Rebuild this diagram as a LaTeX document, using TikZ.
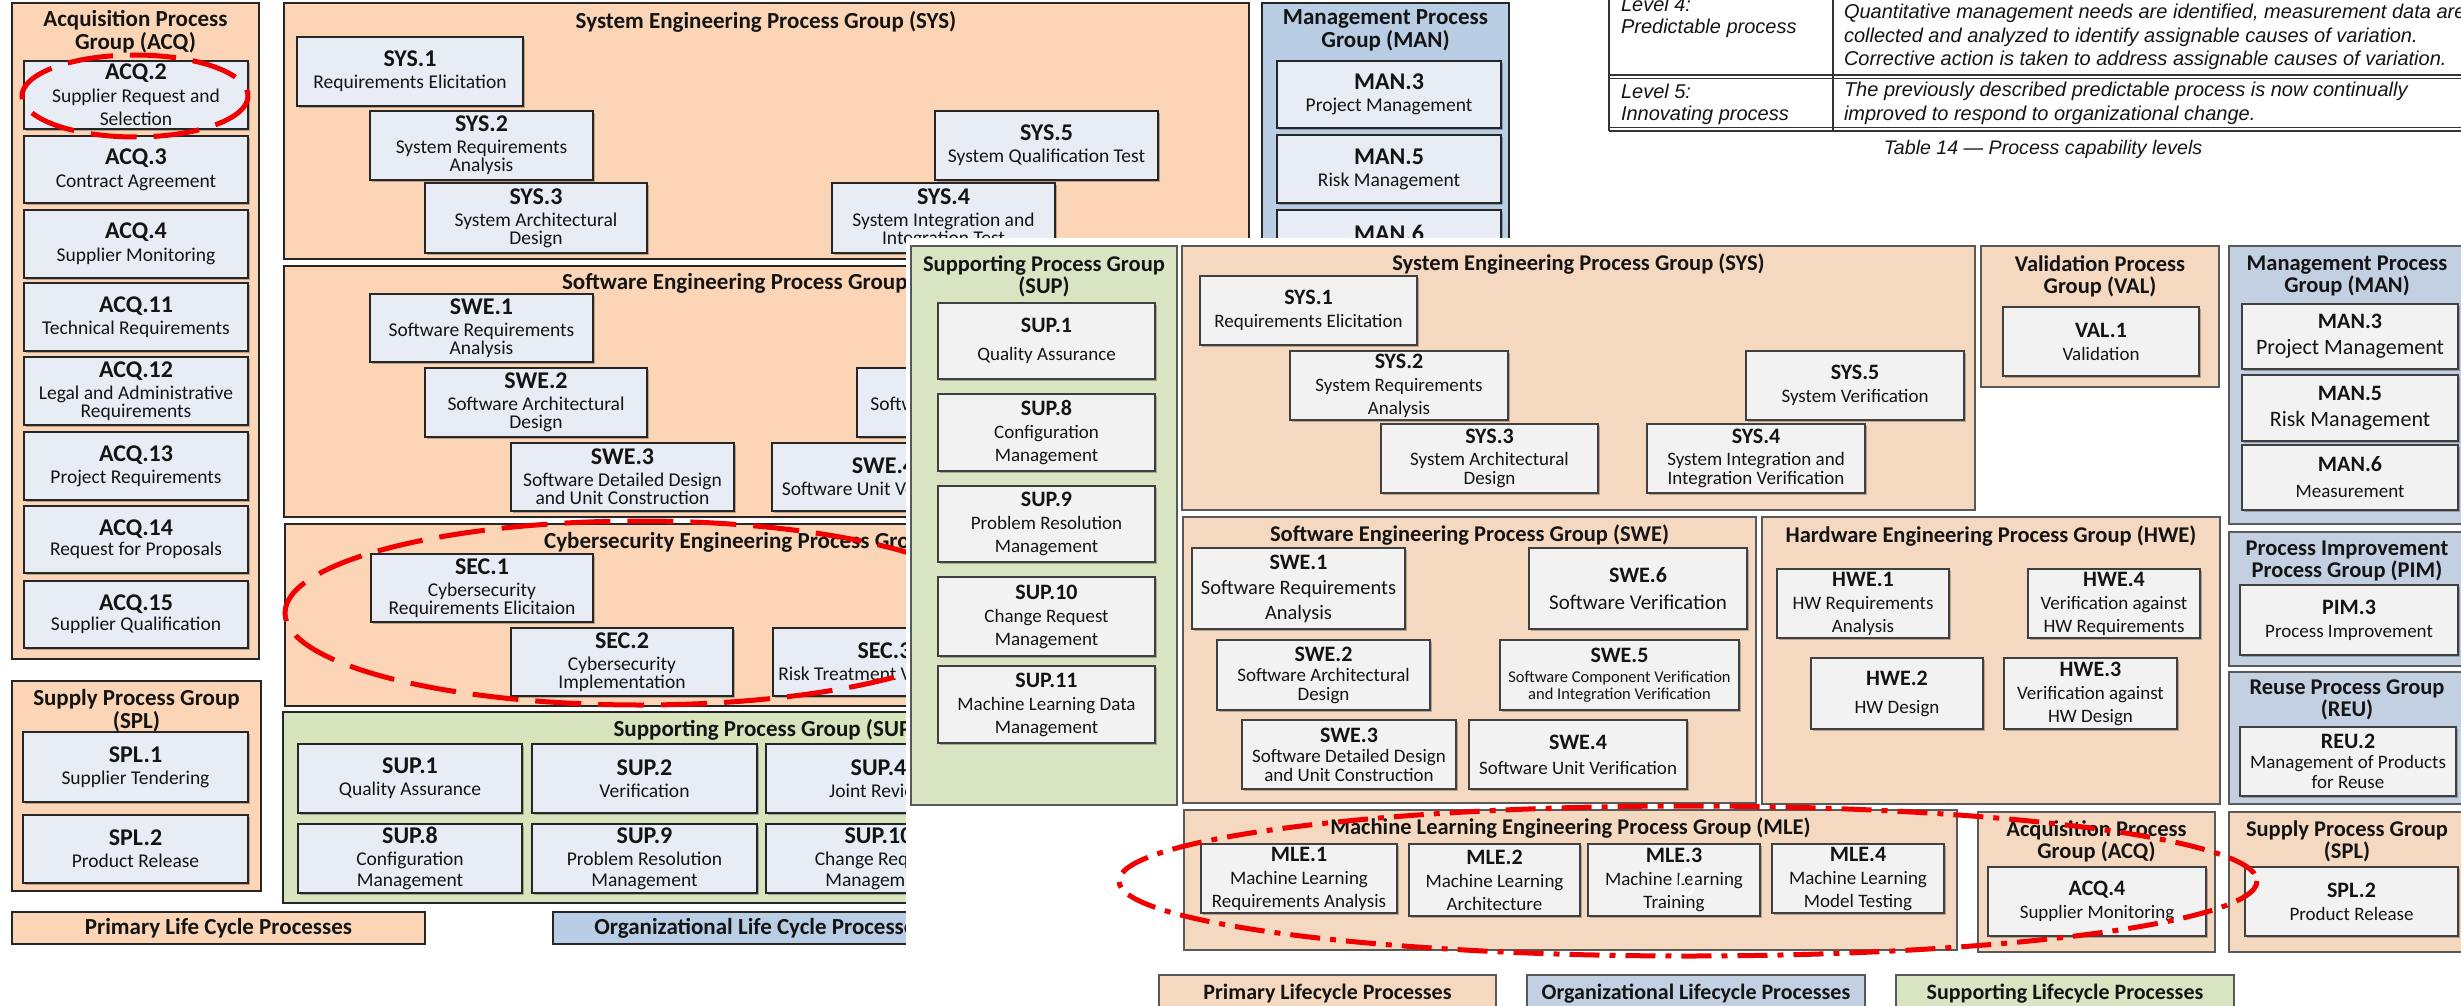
\documentclass[tikz,border=0pt]{standalone}
\usepackage{fontspec}
\usetikzlibrary{shadows}
\setmainfont{Carlito}
\newfontfamily\tabfont{Liberation Sans}
\definecolor{opeach}{HTML}{FBD5B5}
\definecolor{oboxc}{HTML}{E8EDF5}
\definecolor{ogreen}{HTML}{D7E4BD}
\definecolor{oblue}{HTML}{B9CDE5}
\definecolor{npeach}{HTML}{F5D8C0}
\definecolor{nboxc}{HTML}{F2F2F2}
\definecolor{ngreen}{HTML}{D8E4C2}
\definecolor{nblue}{HTML}{C3D0E2}
\definecolor{redmk}{HTML}{F00000}
\definecolor{ink}{HTML}{141414}
\newcommand\OT[1]{{\bfseries\fontsize{24}{18}\selectfont#1}}
\newcommand\NT[1]{{\bfseries\fontsize{22}{22}\selectfont#1}}
\newcommand\BX[8][]{\node[#2,minimum width={#6-#4},minimum height={#7-#5},#1] (#3) at ({(#4+#6)/2},{(#5+#7)/2}) {#8};}
\newcommand\GR[6]{\node[#2,minimum width={#5-#3},minimum height={#6-#4}] (#1) at ({(#3+#5)/2},{(#4+#6)/2}) {};}
\begin{document}
\begin{tikzpicture}[x=1pt,y=-1pt,inner sep=0pt,outer sep=0pt,
  ofs/.style 2 args={font={\fontsize{#1}{#2}\selectfont\lineskiplimit=-50pt}},
  og/.style={draw=black!85,line width=2.2,fill=opeach},
  ob/.style={draw=black!85,line width=2.4,fill=oboxc,align=center,text=ink,ofs={19.5}{18},
    drop shadow={shadow xshift=2pt,shadow yshift=-2pt,fill=black,opacity=0.25}},
  ogt/.style={align=center,text=ink,font={\bfseries\fontsize{23}{23}\selectfont\lineskiplimit=-50pt}},
  ng/.style={draw=black!65,line width=1.8,fill=npeach},
  nb/.style={draw=black!75,line width=2,fill=nboxc,align=center,text=ink,ofs={19}{23},
    drop shadow={shadow xshift=2pt,shadow yshift=-2pt,fill=black,opacity=0.25}},
  ngt/.style={align=center,text=ink,font={\bfseries\fontsize{22.5}{22}\selectfont\lineskiplimit=-50pt}},
  tb/.style={anchor=west,text=ink,font={\tabfont\itshape\fontsize{20}{24}\selectfont}},
  redd/.style={draw=redmk,line width=5,dash pattern=on 46pt off 17pt},
  reddd/.style={draw=redmk,line width=5,dash pattern=on 30pt off 10pt on 6pt off 10pt},
]
\useasboundingbox (0,0) rectangle (2461,1006);
\fill[white] (0,0) rectangle (2461,1006);

% ================= old diagram =================
\GR{acqG}{og}{12}{3}{259}{659}
\node[ogt] (acqGt) at (135.5,31.5) {Acquisition Process\\Group (ACQ)};
\BX{ob}{acq2}{24}{61}{248}{129}{\OT{ACQ.2}\\[5pt]Supplier Request and\\[5pt]Selection}
\BX{ob}{acq3}{24}{136}{248}{203}{\OT{ACQ.3}\\[5pt]Contract Agreement}
\BX{ob}{acq4}{24}{210}{248}{278}{\OT{ACQ.4}\\[5pt]Supplier Monitoring}
\BX{ob}{acq11}{24}{283}{248}{351}{\OT{ACQ.11}\\[4pt]Technical Requirements}
\BX{ob}{acq12}{24}{357}{248}{425}{\OT{ACQ.12}\\[4pt]Legal and Administrative\\Requirements}
\BX{ob}{acq13}{24}{432}{248}{500}{\OT{ACQ.13}\\[4pt]Project Requirements}
\BX{ob}{acq14}{24}{506}{248}{573}{\OT{ACQ.14}\\[2pt]Request for Proposals}
\BX{ob}{acq15}{24}{581}{248}{648}{\OT{ACQ.15}\\[2pt]Supplier Qualification}

\GR{splG}{og}{12}{681}{261}{891}
\node[ogt] (splGt) at (136.5,710.5) {Supply Process Group\\(SPL)};
\BX{ob}{spl1}{23}{732}{248}{802}{\OT{SPL.1}\\[4pt]Supplier Tendering}
\BX{ob}{spl2}{23}{815}{248}{883}{\OT{SPL.2}\\[4pt]Product Release}

\GR{sysG}{og}{284}{3}{1249}{259}
\node[ogt] (sysGt) at (766,22) {System Engineering Process Group (SYS)};
\BX{ob}{sys1}{297}{37}{523}{106}{\OT{SYS.1}\\[4pt]Requirements Elicitation}
\BX{ob}{sys2}{370}{111}{593}{180}{\OT{SYS.2}\\[4pt]System Requirements\\Analysis}
\BX{ob}{sys3}{425}{183}{647}{253}{\OT{SYS.3}\\[4pt]System Architectural\\Design}
\BX{ob}{sys4}{832}{183}{1055}{253}{\OT{SYS.4}\\[4pt]System Integration and\\Integration Test}
\BX{ob}{sys5}{935}{111}{1158}{180}{\OT{SYS.5}\\[4pt]System Qualification Test}

\GR{sweG}{og}{284}{266}{1249}{517}
\node[ogt] (sweGt) at (766,283) {Software Engineering Process Group (SWE)};
\BX{ob}{swe1}{370}{294}{593}{362}{\OT{SWE.1}\\[4pt]Software Requirements\\Analysis}
\BX{ob}{swe2}{425}{368}{647}{437}{\OT{SWE.2}\\[4pt]Software Architectural\\Design}
\BX{ob}{swe3}{511}{443}{734}{511}{\OT{SWE.3}\\[4pt]Software Detailed Design\\and Unit Construction}
\BX{ob}{swe4}{772}{443}{995}{511}{\OT{SWE.4}\\[4pt]Software Unit Verification}
\BX{ob}{swe5}{857}{368}{1080}{437}{\OT{SWE.5}\\[4pt]Software Integration and\\Integration Test}

\GR{secG}{og}{285}{524}{1249}{706}
\node[ogt] (secGt) at (766,542) {Cybersecurity Engineering Process Group (SEC)};
\BX{ob}{sec1}{371}{554}{593}{622}{\OT{SEC.1}\\[4pt]Cybersecurity\\Requirements Elicitaion}
\BX{ob}{sec2}{511}{628}{733}{696}{\OT{SEC.2}\\[4pt]Cybersecurity\\Implementation}
\BX{ob}{sec3}{773}{628}{996}{696}{\OT{SEC.3}\\[4pt]Risk Treatment Verification}

\GR{osupG}{og,fill=ogreen}{283}{712}{1249}{903}
\node[ogt] (osupGt) at (766,730) {Supporting Process Group (SUP)};
\BX{ob}{osup1}{298}{744}{522}{813}{\OT{SUP.1}\\[4pt]Quality Assurance}
\BX{ob}{osup2}{532}{744}{757}{813}{\OT{SUP.2}\\[4pt]Verification}
\BX{ob}{osup4}{766}{744}{991}{813}{\OT{SUP.4}\\[4pt]Joint Review}
\BX{ob}{osup8}{298}{824}{522}{893}{\OT{SUP.8}\\[4pt]Configuration\\[3pt]Management}
\BX{ob}{osup9}{532}{824}{757}{893}{\OT{SUP.9}\\[4pt]Problem Resolution\\[3pt]Management}
\BX{ob}{osup10}{766}{824}{991}{893}{\OT{SUP.10}\\[4pt]Change Request\\[3pt]Management}

\GR{omanG}{og,fill=oblue}{1262}{3}{1509}{330}
\node[ogt] (omanGt) at (1385.5,30.5) {Management Process\\Group (MAN)};
\BX{ob}{oman3}{1277}{61}{1501}{128}{\OT{MAN.3}\\[4pt]Project Management}
\BX{ob}{oman5}{1277}{135}{1501}{203}{\OT{MAN.5}\\[4pt]Risk Management}
\BX{ob}{oman6}{1277}{210}{1501}{278}{\OT{MAN.6}\\[4pt]Measurement}

\node[og,minimum width=413,minimum height=32,text=ink,font={\bfseries\fontsize{23}{23}\selectfont}] (olegP) at (218.5,928) {Primary Life Cycle Processes};
\node[og,fill=oblue,minimum width=413,minimum height=32,text=ink,font={\bfseries\fontsize{23}{23}\selectfont}] (olegO) at (759.5,928) {Organizational Life Cycle Processes};

\draw[redd] (135,96) ellipse [x radius=113, y radius=41];
\draw[redd] (640,613) ellipse [x radius=355, y radius=92];

% ================= table =================
\draw[line width=1.3,black!80] (1609,-5) -- (1609,131) (1833,-5) -- (1833,131);
\draw[line width=1.1,black!80] (1609,75) -- (2470,75) (1609,78.5) -- (2470,78.5);
\draw[line width=1.1,black!80] (1609,127.5) -- (2470,127.5) (1609,131) -- (2470,131);
\node[tb] (l4a) at (1621,4) {Level 4:};
\node[tb] (l4b) at (1621,28) {Predictable process};
\node[tb] (l4c) at (1844,13) {Quantitative management needs are identified, measurement data are};
\node[tb] (l4d) at (1844,37) {collected and analyzed to identify assignable causes of variation.};
\node[tb] (l4e) at (1844,60) {Corrective action is taken to address assignable causes of variation.};
\node[tb] (l5a) at (1621,91) {Level 5:};
\node[tb] (l5b) at (1621,115) {Innovating process};
\node[tb] (l5c) at (1844,91) {The previously described predictable process is now continually};
\node[tb] (l5d) at (1844,115) {improved to respond to organizational change.};
\node[tb,anchor=center,font={\tabfont\itshape\fontsize{19.6}{24}\selectfont}] (cap) at (2043,149) {Table 14 — Process capability levels};

% ================= cover =================
\fill[white] (906,238) rectangle (2470,1012);

% ================= new diagram =================
\GR{nsupG}{ng,fill=ngreen}{911}{246}{1177}{805}
\node[ngt] (nsupGt) at (1044,276) {Supporting Process Group\\(SUP)};
\BX{nb}{nsup1}{938}{303}{1155}{379}{\NT{SUP.1}\\[5pt]Quality Assurance}
\BX{nb}{nsup8}{938}{394}{1155}{471}{\NT{SUP.8}\\Configuration\\Management}
\BX{nb}{nsup9}{938}{486}{1155}{562}{\NT{SUP.9}\\Problem Resolution\\Management}
\BX{nb}{nsup10}{938}{577}{1155}{656}{\NT{SUP.10}\\Change Request\\Management}
\BX{nb}{nsup11}{938}{666}{1155}{743}{\NT{SUP.11}\\Machine Learning Data\\Management}

\GR{nsysG}{ng}{1182}{246}{1975}{510}
\node[ngt] (nsysGt) at (1578.5,264) {System Engineering Process Group (SYS)};
\BX{nb}{nsys1}{1200}{276}{1417}{345}{\NT{SYS.1}\\Requirements Elicitation}
\BX{nb}{nsys2}{1290}{351}{1508}{420}{\NT{SYS.2}\\System Requirements\\Analysis}
\BX[ofs={19}{19}]{nb}{nsys3}{1381}{424}{1598}{493}{\NT{SYS.3}\\[3pt]System Architectural\\Design}
\BX[ofs={19}{19}]{nb}{nsys4}{1647}{424}{1865}{493}{\NT{SYS.4}\\[3pt]System Integration and\\Integration Verification}
\BX{nb}{nsys5}{1746}{351}{1964}{420}{\NT{SYS.5}\\System Verification}

\GR{valG}{ng}{1981}{246}{2219}{387}
\node[ngt] (valGt) at (2100,276) {Validation Process\\Group (VAL)};
\BX{nb}{val1}{2003}{307}{2199}{376}{\NT{VAL.1}\\Validation}

\GR{nmanG}{ng,fill=nblue}{2229}{246}{2468}{524}
\node[ngt] (nmanGt) at (2347,276) {Management Process\\Group (MAN)};
\BX[ofs={22}{26}]{nb}{nman3}{2242}{304}{2458}{369}{\NT{MAN.3}\\Project Management}
\BX[ofs={22}{26}]{nb}{nman5}{2242}{375}{2458}{441}{\NT{MAN.5}\\Risk Management}
\BX{nb}{nman6}{2242}{445}{2458}{510}{\NT{MAN.6}\\[3pt]Measurement}

\GR{pimG}{ng,fill=nblue}{2229}{532}{2468}{666}
\node[ngt] (pimGt) at (2347,560.5) {Process Improvement\\Process Group (PIM)};
\BX{nb}{pim3}{2240}{585}{2458}{655}{\NT{PIM.3}\\Process Improvement}

\GR{reuG}{ng,fill=nblue}{2229}{672}{2468}{804}
\node[ngt] (reuGt) at (2347,700) {Reuse Process Group\\(REU)};
\BX[ofs={19}{20}]{nb}{reu2}{2240}{727}{2456}{796}{\NT{REU.2}\\Management of Products\\for Reuse}

\GR{nsweG}{ng}{1183}{517}{1756}{803}
\node[ngt] (nsweGt) at (1469.5,535) {Software Engineering Process Group (SWE)};
\BX[ofs={20.5}{25}]{nb}{nswe1}{1192}{548}{1405}{629}{\NT{SWE.1}\\Software Requirements\\Analysis}
\BX[ofs={21}{25}]{nb}{nswe6}{1529}{548}{1747}{629}{\NT{SWE.6}\\[2pt]Software Verification}
\BX[ofs={19}{19}]{nb}{nswe2}{1217}{640}{1430}{710}{\NT{SWE.2}\\[1pt]Software Architectural\\Design}
\BX[ofs={16.5}{17}]{nb}{nswe5}{1500}{640}{1739}{710}{\NT{SWE.5}\\[3pt]Software Component Verification\\and Integration Verification}
\BX[ofs={19}{19}]{nb}{nswe3}{1242}{720}{1456}{789}{\NT{SWE.3}\\[1pt]Software Detailed Design\\and Unit Construction}
\BX{nb}{nswe4}{1469}{720}{1687}{789}{\NT{SWE.4}\\[2pt]Software Unit Verification}

\GR{hweG}{ng}{1762}{517}{2220}{804}
\node[ngt] (hweGt) at (1991,536) {Hardware Engineering Process Group (HWE)};
\BX{nb}{hwe1}{1777}{569}{1949}{638}{\NT{HWE.1}\\HW Requirements\\Analysis}
\BX{nb}{hwe4}{2028}{569}{2200}{638}{\NT{HWE.4}\\Verification against\\HW Requirements}
\BX{nb}{hwe2}{1811}{658}{1983}{729}{\NT{HWE.2}\\[5pt]HW Design}
\BX{nb}{hwe3}{2004}{658}{2177}{729}{\NT{HWE.3}\\Verification against\\HW Design}

\GR{mleG}{ng}{1184}{810}{1957}{950}
\node[ngt] (mleGt) at (1570.5,828) {Machine Learning Engineering Process Group (MLE)};
\BX{nb}{mle1}{1201}{844}{1397}{913}{\NT{MLE.1}\\Machine Learning\\Requirements Analysis}
\BX{nb}{mle2}{1409}{844}{1580}{916}{\NT{MLE.2}\\Machine Learning\\Architecture}
\BX{nb}{mle3}{1588}{844}{1760}{916}{\NT{MLE.3}\\Machine Learning\\Training}
\BX{nb}{mle4}{1772}{844}{1944}{913}{\NT{MLE.4}\\Machine Learning\\Model Testing}

\GR{nacqG}{ng}{1978}{812}{2215}{952}
\node[ngt] (nacqGt) at (2096.5,841) {Acquisition Process\\Group (ACQ)};
\BX{nb}{nacq4}{1988}{867}{2206}{936}{\NT{ACQ.4}\\Supplier Monitoring}

\GR{nsplG}{ng}{2229}{812}{2468}{952}
\node[ngt] (nsplGt) at (2347,841) {Supply Process Group\\(SPL)};
\BX{nb}{nspl2}{2245}{867}{2458}{936}{\NT{SPL.2}\\Product Release}

\node[ng,minimum width=337,minimum height=37,text=ink,font={\bfseries\fontsize{22}{22}\selectfont}] (nlegP) at (1327.5,993.5) {Primary Lifecycle Processes};
\node[ng,fill=nblue,minimum width=338,minimum height=37,text=ink,font={\bfseries\fontsize{22}{22}\selectfont}] (nlegO) at (1696,993.5) {Organizational Lifecycle Processes};
\node[ng,fill=ngreen,minimum width=338,minimum height=37,text=ink,font={\bfseries\fontsize{22}{22}\selectfont}] (nlegS) at (2065,993.5) {Supporting Lifecycle Processes};

\draw[reddd] (1688,881) ellipse [x radius=569, y radius=75];
\draw[white,line width=2.5] (1687,882) ellipse [x radius=7, y radius=13];
\end{tikzpicture}
\end{document}
